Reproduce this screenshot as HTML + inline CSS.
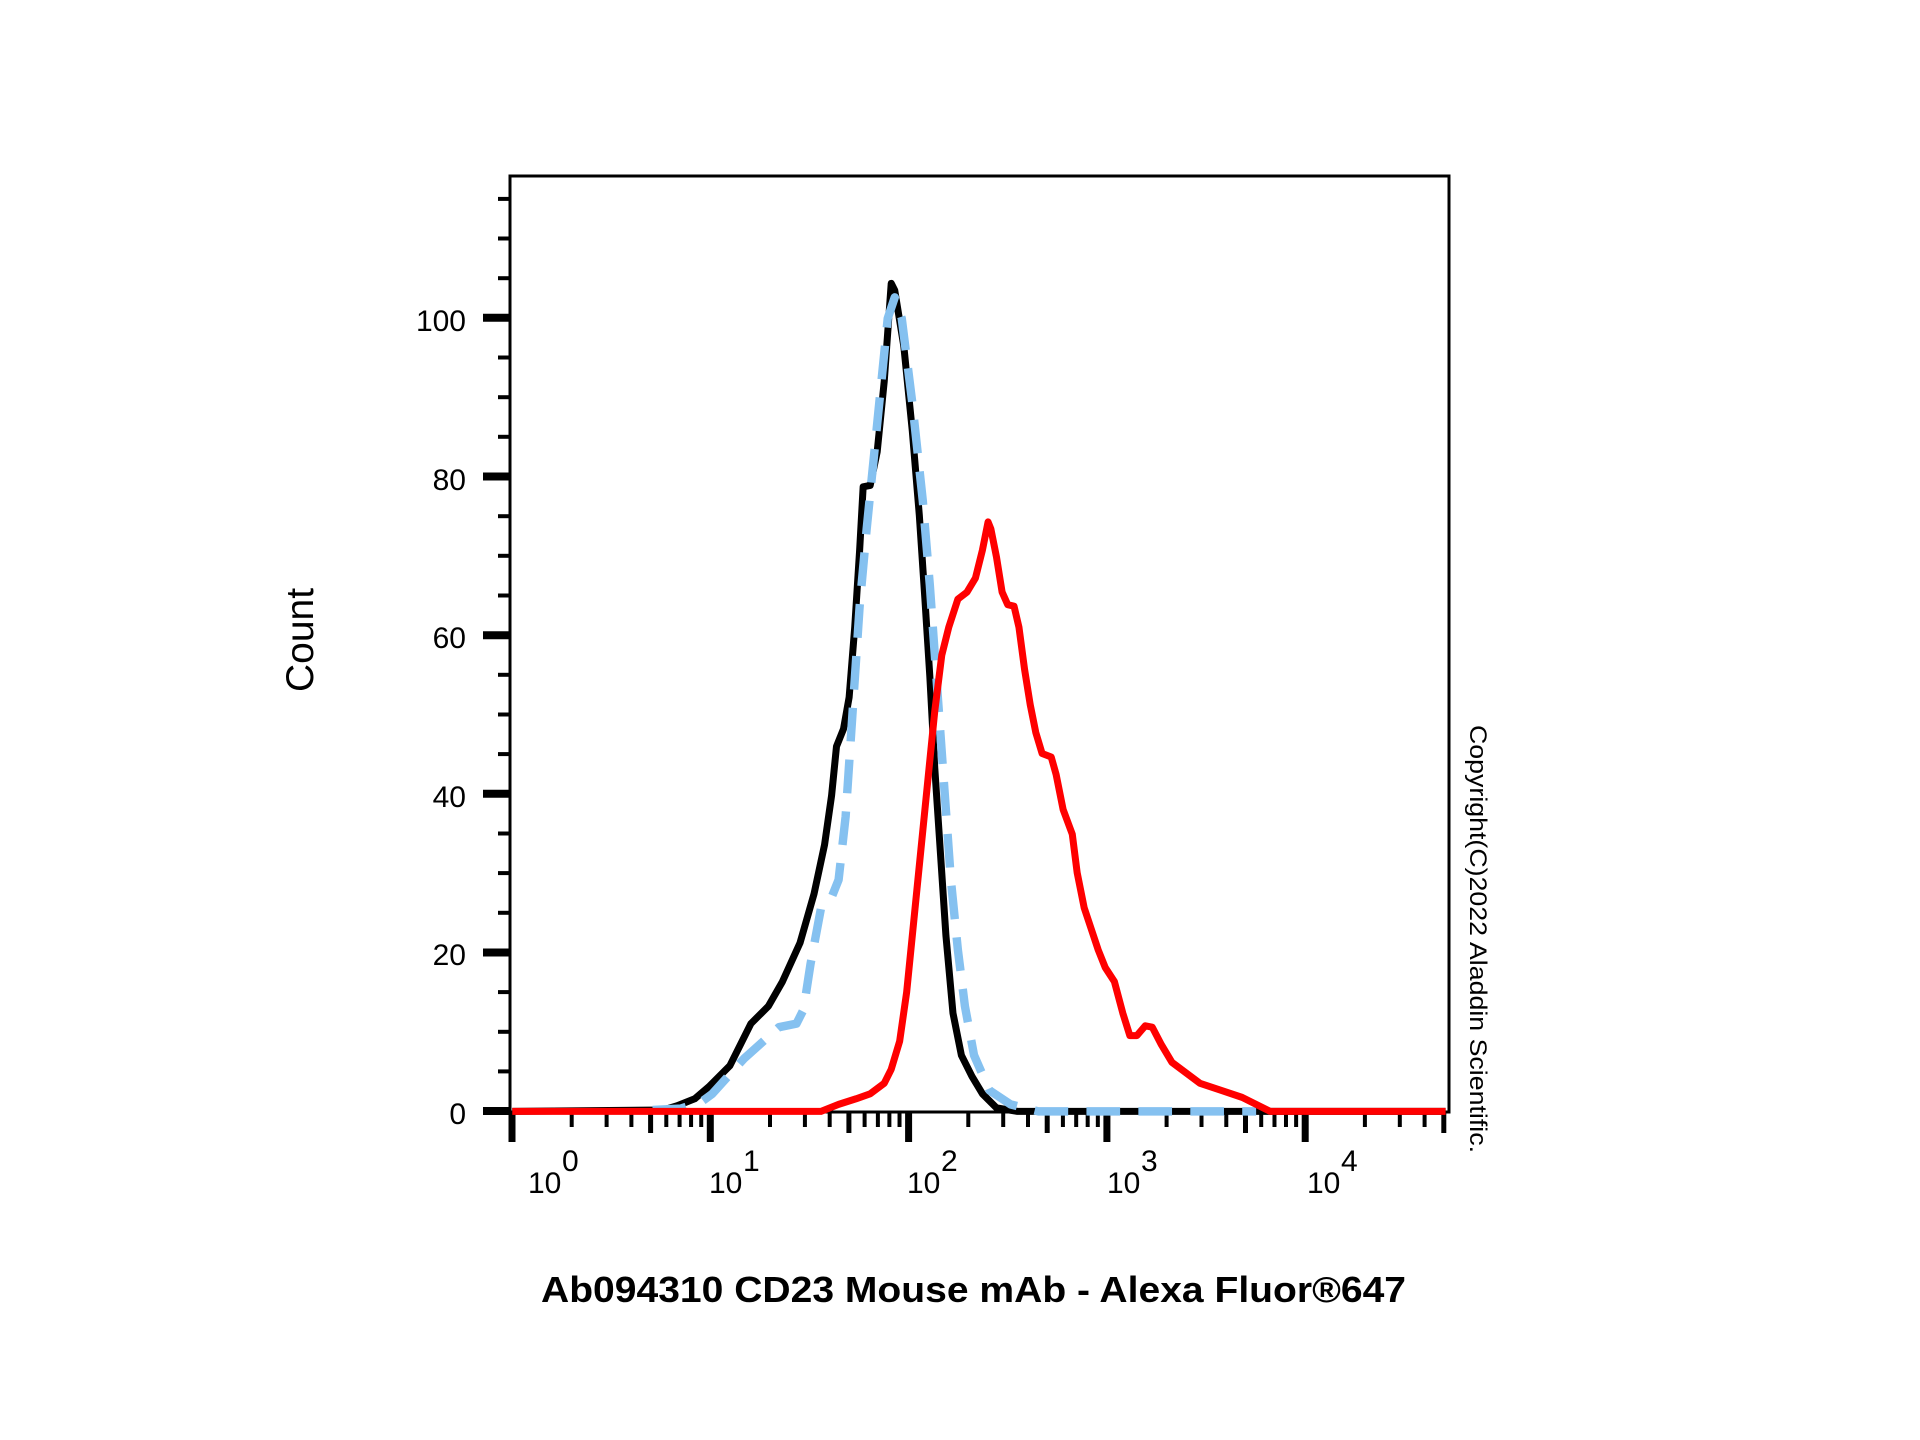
<!DOCTYPE html>
<html><head><meta charset="utf-8"><style>html,body{margin:0;padding:0;background:#fff}svg{display:block}</style></head>
<body>
<svg width="1920" height="1440" viewBox="0 0 1920 1440" xmlns="http://www.w3.org/2000/svg" font-family="Liberation Sans, Arial, sans-serif">
<rect width="1920" height="1440" fill="#fff"/>
<rect x="510" y="176" width="939" height="936" fill="none" stroke="#000" stroke-width="3"/>
<g stroke="#000">
<g stroke-width="4">
<line x1="498" x2="510" y1="1071.4" y2="1071.4"/><line x1="498" x2="510" y1="1031.8" y2="1031.8"/><line x1="498" x2="510" y1="992.1" y2="992.1"/>
<line x1="498" x2="510" y1="912.8" y2="912.8"/><line x1="498" x2="510" y1="873.1" y2="873.1"/><line x1="498" x2="510" y1="833.5" y2="833.5"/>
<line x1="498" x2="510" y1="754.1" y2="754.1"/><line x1="498" x2="510" y1="714.5" y2="714.5"/><line x1="498" x2="510" y1="674.8" y2="674.8"/>
<line x1="498" x2="510" y1="595.5" y2="595.5"/><line x1="498" x2="510" y1="555.8" y2="555.8"/><line x1="498" x2="510" y1="516.2" y2="516.2"/>
<line x1="498" x2="510" y1="436.8" y2="436.8"/><line x1="498" x2="510" y1="397.2" y2="397.2"/><line x1="498" x2="510" y1="357.5" y2="357.5"/>
<line x1="498" x2="510" y1="278.2" y2="278.2"/><line x1="498" x2="510" y1="238.5" y2="238.5"/><line x1="498" x2="510" y1="198.9" y2="198.9"/>
</g>
<g stroke-width="8">
<line x1="483" x2="510" y1="1111" y2="1111"/><line x1="483" x2="510" y1="952.5" y2="952.5"/><line x1="483" x2="510" y1="793.8" y2="793.8"/>
<line x1="483" x2="510" y1="635.2" y2="635.2"/><line x1="483" x2="510" y1="476.5" y2="476.5"/><line x1="483" x2="510" y1="317.8" y2="317.8"/>
</g>
</g>
<g font-size="30" text-anchor="end" fill="#000">
<text x="466" y="1124">0</text><text x="466" y="965">20</text><text x="466" y="807">40</text>
<text x="466" y="648">60</text><text x="466" y="490">80</text><text x="466" y="331">100</text>
</g>
<g stroke="#000" id="xt"></g>
<g font-size="30" fill="#000">
<text x="528" y="1193">10</text><text x="562" y="1171">0</text>
<text x="709" y="1193">10</text><text x="743" y="1171">1</text>
<text x="907" y="1193">10</text><text x="941" y="1171">2</text>
<text x="1107" y="1193">10</text><text x="1141" y="1171">3</text>
<text x="1307" y="1193">10</text><text x="1341" y="1171">4</text>
</g>
<g transform="translate(400,150) scale(0.70175)" fill="none" stroke-linejoin="round">
<polyline stroke="#000" stroke-width="10" points="160,1370 375,1368 395,1362 420,1352 440,1335 470,1305 500,1245 525,1220 545,1185 570,1130 590,1060 605,990 615,920 622,850 632,825 640,780 648,680 655,570 660,480 670,478 680,430 690,330 700,190 705,200 718,280 730,400 740,520 748,640 755,750 762,880 770,1000 778,1120 788,1230 800,1290 815,1320 830,1345 850,1365 880,1370 1490,1370"/>
<polyline stroke="#85c1f0" stroke-width="12" stroke-dasharray="48,26" points="360,1368 400,1366 430,1356 445,1345 490,1295 540,1250 565,1245 575,1225 585,1160 600,1080 615,1065 625,1040 635,950 645,800 655,650 665,540 675,440 685,340 695,240 705,210 715,240 730,360 745,500 755,620 765,760 775,900 785,1040 795,1140 805,1220 818,1290 840,1340 870,1360 910,1370 1220,1370"/>
<polyline stroke="#f00" stroke-width="10" points="160,1370 600,1370 625,1360 650,1352 670,1345 690,1330 700,1310 712,1270 722,1200 732,1100 742,1000 752,900 762,800 772,720 782,680 795,640 808,630 820,610 830,570 838,530 842,540 850,580 858,630 866,648 875,650 882,680 890,740 898,790 906,830 915,860 928,865 935,890 945,940 958,975 965,1030 975,1080 985,1110 995,1140 1005,1165 1018,1185 1030,1230 1040,1262 1050,1262 1062,1248 1072,1250 1085,1275 1100,1300 1120,1315 1140,1330 1170,1340 1200,1350 1220,1360 1240,1370 1490,1370"/>
</g>
<text font-size="39" fill="#000" transform="translate(313,640) rotate(-90)" text-anchor="middle">Count</text>
<text font-size="36" font-weight="bold" fill="#000" x="541" y="1302" textLength="865" lengthAdjust="spacingAndGlyphs">Ab094310 CD23 Mouse mAb - Alexa Fluor®647</text>
<text font-size="24" fill="#000" transform="translate(1470,725) rotate(90)" textLength="428" lengthAdjust="spacingAndGlyphs">Copyright(C)2022 Aladdin Scientific.</text>
<script>
(function(){var g=document.getElementById('xt'),ns='http://www.w3.org/2000/svg';
function L(x,y2,w){var l=document.createElementNS(ns,'line');l.setAttribute('x1',x);l.setAttribute('x2',x);l.setAttribute('y1',1112);l.setAttribute('y2',y2);l.setAttribute('stroke-width',w);g.appendChild(l);}
var x0=512,d=198.3;
for(var k=0;k<5;k++){var b=x0+k*d;L(b,1142,7);
for(var m=2;m<=9;m++){var x=b+Math.log10(m)*d;if(x>1450)break;if(m==5)L(x,1133,5);else L(x,1127,4);}}
})();
</script>
</svg>
</body></html>
